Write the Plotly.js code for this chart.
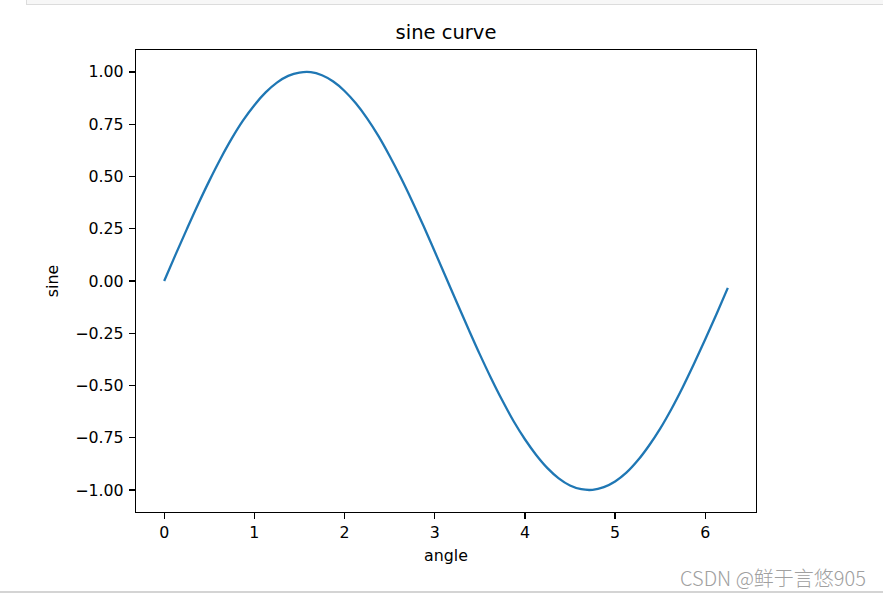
<!DOCTYPE html>
<html>
<head>
<meta charset="utf-8">
<script src="https://cdn.plot.ly/plotly-3.0.1.min.js"></script>
<style>
  html, body { margin: 0; padding: 0; background: #fff; }
  #wrap { position: relative; width: 883px; height: 595px; overflow: hidden; }
  #topbox { position: absolute; left: 26px; top: -2px; width: 870px; height: 6px;
            background: #f7f7f7; border-left: 1px solid #dcdcdc; border-bottom: 1px solid #dcdcdc; }
  #botline { position: absolute; left: 0; top: 591px; width: 883px; height: 2px; background: #d4d4d4; }
  #chart { position: absolute; left: 0; top: 0; }
</style>
</head>
<body>
<div id="wrap">
  <div id="chart"></div>
  <div id="topbox"></div>
  <div id="botline"></div>
</div>
<script>
const angle = [0, 0.125, 0.25, 0.375, 0.5, 0.625, 0.75, 0.875, 1.0, 1.125, 1.25, 1.375, 1.5, 1.625, 1.75, 1.875,
  2.0, 2.125, 2.25, 2.375, 2.5, 2.625, 2.75, 2.875, 3.0, 3.125, 3.25, 3.375, 3.5, 3.625, 3.75, 3.875,
  4.0, 4.125, 4.25, 4.375, 4.5, 4.625, 4.75, 4.875, 5.0, 5.125, 5.25, 5.375, 5.5, 5.625, 5.75, 5.875,
  6.0, 6.125, 6.25];
const sine = [0, 0.125, 0.247, 0.366, 0.479, 0.585, 0.682, 0.768, 0.841, 0.902, 0.949, 0.981, 0.997, 0.999, 0.984, 0.954,
  0.909, 0.850, 0.778, 0.694, 0.598, 0.494, 0.382, 0.264, 0.141, 0.017, -0.108, -0.231, -0.351, -0.465, -0.572, -0.671,
  -0.757, -0.832, -0.895, -0.944, -0.978, -0.996, -0.999, -0.986, -0.959, -0.917, -0.859, -0.788, -0.706, -0.612, -0.508, -0.396,
  -0.279, -0.158, -0.033];
const titleText = "sine curve";
const xLabel = "angle";
const yLabel = "sine";
const watermark = "CSDN @鲜于言悠905";

const font = "DejaVu Sans, sans-serif";
const trace = {
  x: angle, y: sine, type: "scatter", mode: "lines",
  line: { color: "#1f77b4", width: 2.3, shape: "spline" },
  hoverinfo: "none"
};
const layout = {
  width: 883, height: 595,
  margin: { l: 136, r: 127, t: 50, b: 83, pad: 0 },
  paper_bgcolor: "rgba(0,0,0,0)", plot_bgcolor: "#fff",
  showlegend: false,
  font: { family: font, size: 15.8, color: "#000" },
  title: { text: titleText, font: { family: font, size: 19.5, color: "#000" },
           x: 0.5, xref: "paper", y: 1, yref: "paper", yanchor: "bottom", pad: { b: 11 } },
  xaxis: {
    range: [-0.3125, 6.5625], tick0: 0, dtick: 1, tickformat: "d",
    showgrid: false, zeroline: false,
    showline: true, mirror: true, linecolor: "#000", linewidth: 1.2,
    ticks: "outside", ticklen: 6, tickwidth: 1.2, tickcolor: "#000",
    tickfont: { family: font, size: 15.8, color: "#000" },
    title: { text: xLabel, font: { family: font, size: 15.8, color: "#000" }, standoff: 8 }
  },
  yaxis: {
    range: [-1.105, 1.105], tick0: 0, dtick: 0.25, tickformat: ".2f",
    showgrid: false, zeroline: false,
    showline: true, mirror: true, linecolor: "#000", linewidth: 1.2,
    ticks: "outside", ticklen: 6, tickwidth: 1.2, tickcolor: "#000",
    ticklabelstandoff: 2,
    tickfont: { family: font, size: 15.8, color: "#000" },
    title: { text: yLabel, font: { family: font, size: 15.8, color: "#000" }, standoff: 12 }
  },
  annotations: [{
    text: watermark, xref: "paper", yref: "paper",
    x: (868 - 136) / 620, y: (512 - 577) / 462, xanchor: "right", yanchor: "middle",
    showarrow: false, font: { family: "Noto Sans CJK SC, sans-serif", size: 20, weight: 300, color: "#a0a0a0" }
  }]
};
Plotly.newPlot("chart", [trace], layout, { staticPlot: true, displayModeBar: false });
</script>
</body>
</html>
